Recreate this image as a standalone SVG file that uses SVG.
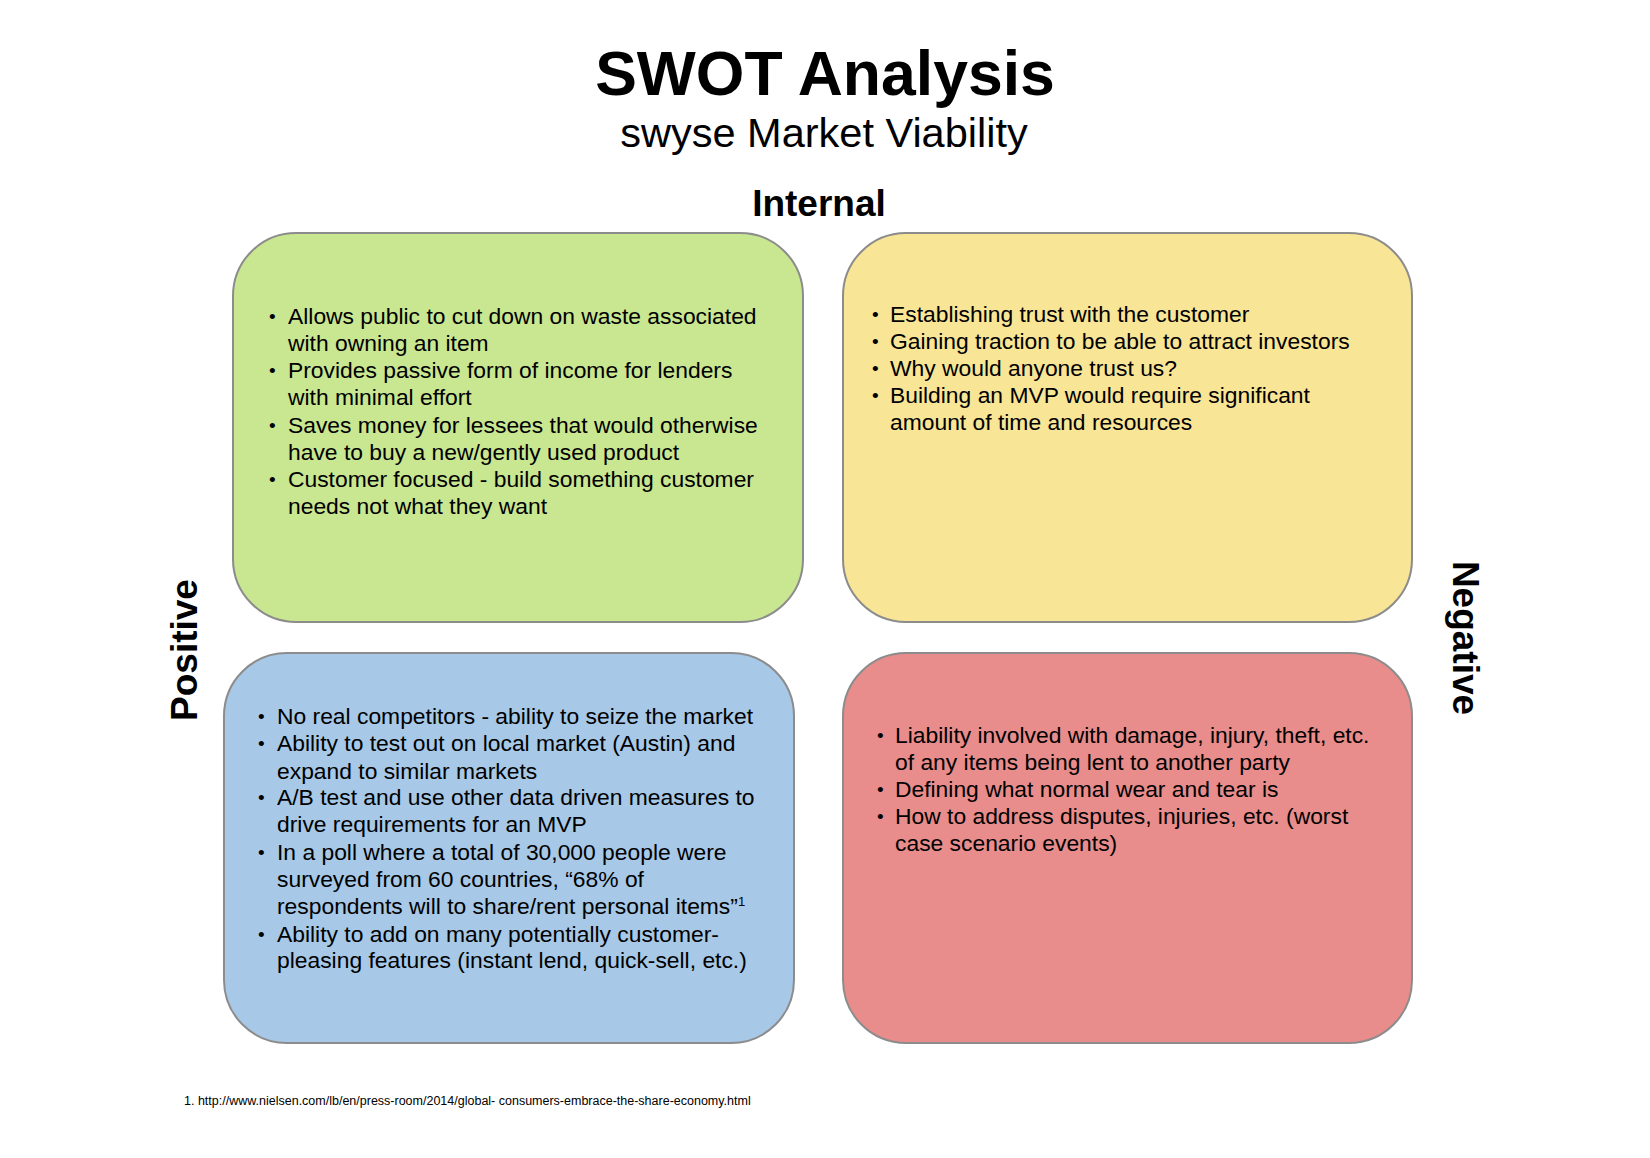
<svg xmlns="http://www.w3.org/2000/svg" width="1650" height="1158" viewBox="0 0 1650 1158">
<style>
text{font-family:"Liberation Sans",Arial,sans-serif;fill:#000}
.box{stroke:#8c8c8c;stroke-width:2}
.t{font-size:22.85px}
.b{font-size:19px}
.h{font-weight:bold;font-size:37px}
</style>
<rect width="1650" height="1158" fill="#fff"/>
<g id="title">
<text x="825" y="95" text-anchor="middle" font-weight="bold" font-size="62.5">SWOT Analysis</text>
<text x="824" y="147" text-anchor="middle" font-size="41.5">swyse Market Viability</text>
</g>
<g id="label-internal"><text class="h" x="819" y="216" text-anchor="middle">Internal</text></g>
<g id="label-positive"><text class="h" transform="translate(197,650) rotate(-90)" text-anchor="middle">Positive</text></g>
<g id="label-negative"><text class="h" transform="translate(1453,638) rotate(90)" text-anchor="middle">Negative</text></g>

<g id="strengths">
<rect class="box" x="233" y="233" width="570" height="389" rx="63" fill="#C9E690"/>
<g class="b"><text x="269" y="323">•</text><text x="269" y="377">•</text><text x="269" y="432">•</text><text x="269" y="486">•</text></g>
<g class="t">
<text x="288" y="324">Allows public to cut down on waste associated</text>
<text x="288" y="351">with owning an item</text>
<text x="288" y="378">Provides passive form of income for lenders</text>
<text x="288" y="405">with minimal effort</text>
<text x="288" y="433">Saves money for lessees that would otherwise</text>
<text x="288" y="460">have to buy a new/gently used product</text>
<text x="288" y="487">Customer focused - build something customer</text>
<text x="288" y="514">needs not what they want</text>
</g>
</g>

<g id="weaknesses">
<rect class="box" x="843" y="233" width="569" height="389" rx="63" fill="#F8E596"/>
<g class="b"><text x="872" y="321">•</text><text x="872" y="348">•</text><text x="872" y="375">•</text><text x="872" y="402">•</text></g>
<g class="t">
<text x="890" y="322">Establishing trust with the customer</text>
<text x="890" y="349">Gaining traction to be able to attract investors</text>
<text x="890" y="376">Why would anyone trust us?</text>
<text x="890" y="403">Building an MVP would require significant</text>
<text x="890" y="430">amount of time and resources</text>
</g>
</g>

<g id="opportunities">
<rect class="box" x="224" y="653" width="570" height="390" rx="63" fill="#A7C8E6"/>
<g class="b"><text x="258" y="723">•</text><text x="258" y="750">•</text><text x="258" y="804">•</text><text x="258" y="859">•</text><text x="258" y="941">•</text></g>
<g class="t">
<text x="277" y="724">No real competitors - ability to seize the market</text>
<text x="277" y="751">Ability to test out on local market (Austin) and</text>
<text x="277" y="779">expand to similar markets</text>
<text x="277" y="805">A/B test and use other data driven measures to</text>
<text x="277" y="832">drive requirements for an MVP</text>
<text x="277" y="860">In a poll where a total of 30,000 people were</text>
<text x="277" y="887">surveyed from 60 countries, “68% of</text>
<text x="277" y="914">respondents will to share/rent personal items”<tspan font-size="13" dy="-8">1</tspan></text>
<text x="277" y="942">Ability to add on many potentially customer-</text>
<text x="277" y="968">pleasing features (instant lend, quick-sell, etc.)</text>
</g>
</g>

<g id="threats">
<rect class="box" x="843" y="653" width="569" height="390" rx="63" fill="#E88D8B"/>
<g class="b"><text x="877" y="742">•</text><text x="877" y="796">•</text><text x="877" y="823">•</text></g>
<g class="t">
<text x="895" y="743">Liability involved with damage, injury, theft, etc.</text>
<text x="895" y="770">of any items being lent to another party</text>
<text x="895" y="797">Defining what normal wear and tear is</text>
<text x="895" y="824">How to address disputes, injuries, etc. (worst</text>
<text x="895" y="851">case scenario events)</text>
</g>
</g>

<g id="footnote">
<text x="184" y="1105" font-size="12.5">1. http://www.nielsen.com/lb/en/press-room/2014/global- consumers-embrace-the-share-economy.html</text>
</g>
</svg>
